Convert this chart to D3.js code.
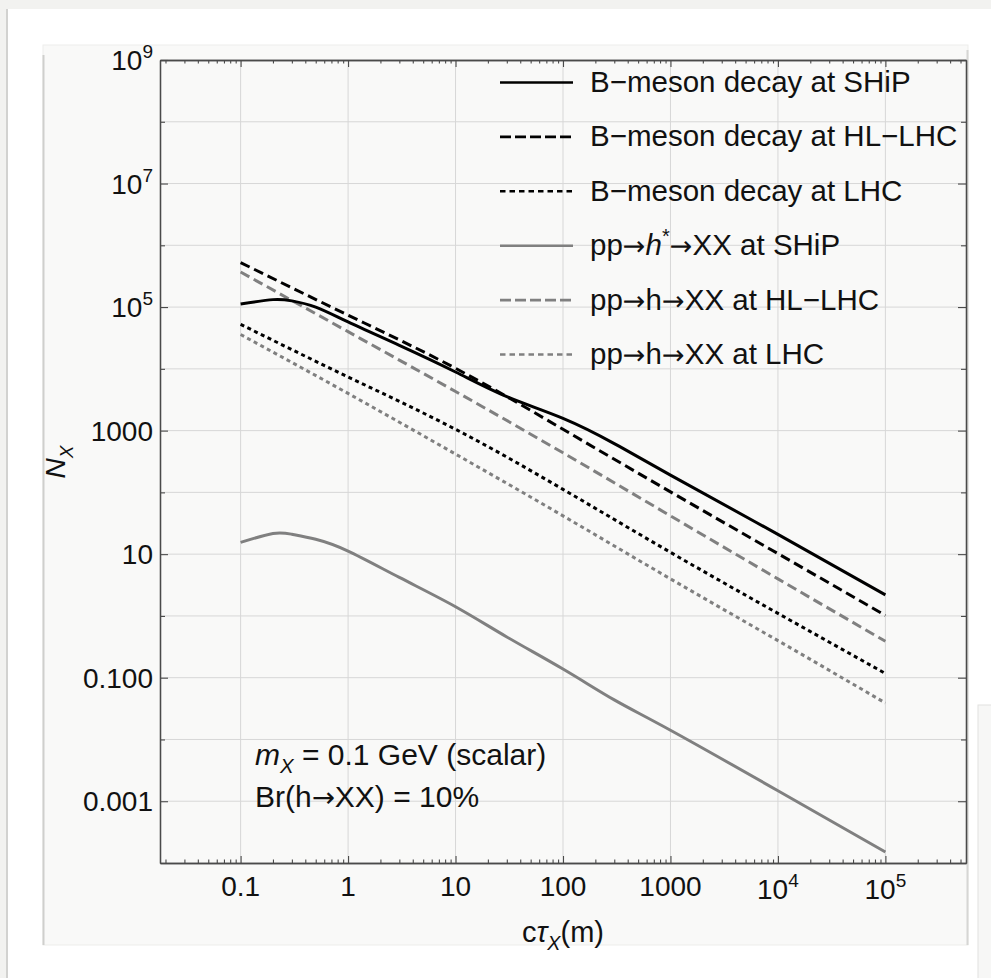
<!DOCTYPE html>
<html>
<head>
<meta charset="utf-8">
<script src="https://cdn.jsdelivr.net/npm/d3@7"></script>
<style>
  html, body { margin: 0; padding: 0; background: #f2f2f0; }
  svg { display: block; font-family: "Liberation Sans", Arial, Helvetica, sans-serif; }
</style>
</head>
<body>
<svg id="chart"></svg>
<script>
// values (N_X vs c*tau in metres)
const ctauDecades = [0.1, 1, 10, 100, 1000, 1e4, 1e5];
const ctauShip = [0.1, 0.2, 0.3, 0.5, 1, 3, 10, 30, 100, 300, 1000, 1e4, 1e5];

const bMesonShip = [1.12e5, 1.32e5, 1.26e5, 1.0e5, 5.75e4, 2.4e4, 8.9e3, 3.55e3, 1.58e3, 617, 190, 20.9, 2.19];
const bMesonHLLHC = [5.25e5, 7.4e4, 1.02e4, 1.05e3, 102, 10.2, 1.02];
const bMesonLHC = [5.25e4, 7.4e3, 1.05e3, 112, 10.7, 1.1, 0.117];
const higgsStarShip = [15.5, 21.6, 21.0, 17.4, 11.2, 4.2, 1.41, 0.457, 0.138, 0.0437, 0.0141, 1.48e-3, 1.51e-4];
const higgsHLLHC = [3.7e5, 4.0e4, 4.3e3, 437, 41.7, 3.98, 0.389];
const higgsLHC = [3.6e4, 4.0e3, 417, 41.7, 3.98, 0.398, 0.0389];

const xTickValues = [0.1, 1, 10, 100, 1000, 1e4, 1e5];
const xTickLabels = ["0.1", "1", "10", "100", "1000", "10^4", "10^5"];
const yTickValues = [1e9, 1e7, 1e5, 1e3, 10, 0.1, 0.001];
const yTickLabels = ["10^9", "10^7", "10^5", "1000", "10", "0.100", "0.001"];

// series, in drawing order (grey first so black sits on top)
const series = [
  {key: "hLHC", x: ctauDecades, y: higgsLHC, color: "#808080", dash: "4,3.5", legendDash: "5.5,4"},
  {key: "hHL", x: ctauDecades, y: higgsHLLHC, color: "#808080", dash: "10,5", legendDash: "11,4"},
  {key: "hShip", x: ctauShip, y: higgsStarShip, color: "#808080", dash: null, legendDash: null},
  {key: "bLHC", x: ctauDecades, y: bMesonLHC, color: "#000", dash: "4,3.5", legendDash: "5.5,4"},
  {key: "bHL", x: ctauDecades, y: bMesonHLLHC, color: "#000", dash: "10,5", legendDash: "11,4"},
  {key: "bShip", x: ctauShip, y: bMesonShip, color: "#000", dash: null, legendDash: null}
];

const legendOrder = ["bShip", "bHL", "bLHC", "hShip", "hHL", "hLHC"];
const legendLabels = {
  bShip: [{t: "B\u2212meson decay at SHiP"}],
  bHL: [{t: "B\u2212meson decay at HL\u2212LHC"}],
  bLHC: [{t: "B\u2212meson decay at LHC"}],
  hShip: [{t: "pp\u2192"}, {t: "h", it: true}, {t: "*", sup: true}, {t: "\u2192XX at SHiP"}],
  hHL: [{t: "pp\u2192h\u2192XX at HL\u2212LHC"}],
  hLHC: [{t: "pp\u2192h\u2192XX at LHC"}]
};

const width = 991;
const height = 978;
const plot = {left: 160, right: 966, top: 60, bottom: 863};
const axisColor = "#4a4a4a";
const gridColor = "#d7d7d7";

const svg = d3.select("#chart")
  .attr("width", width)
  .attr("height", height);

// page / panel background (screenshot framing)
svg.append("rect").attr("width", width).attr("height", height).attr("fill", "#f2f2f0");
svg.append("rect").attr("x", 6).attr("y", 9).attr("width", 3).attr("height", height).attr("fill", "#d2d2d0");
svg.append("rect").attr("x", 8).attr("y", 9).attr("width", width).attr("height", height).attr("fill", "#fff");
svg.append("rect").attr("x", 43).attr("y", 45).attr("width", 925).attr("height", 900)
  .attr("fill", "#f9f9f8").attr("stroke", "#ededeb").attr("stroke-width", 1);
svg.append("line").attr("x1", 43.5).attr("x2", 43.5).attr("y1", 55).attr("y2", 945)
  .attr("stroke", "#cfcfcd").attr("stroke-width", 2);
svg.append("line").attr("x1", 967.5).attr("x2", 967.5).attr("y1", 50).attr("y2", 945)
  .attr("stroke", "#d6d6d4").attr("stroke-width", 2);
svg.append("rect").attr("x", 978).attr("y", 705).attr("width", 20).attr("height", 280)
  .attr("fill", "#f7f7f6").attr("stroke", "#e2e2e0");

const x = d3.scaleLog()
  .domain([Math.pow(10, -1.75), Math.pow(10, 5.75)])
  .range([plot.left, plot.right]);

const y = d3.scaleLog()
  .domain([1e-4, 1e9])
  .range([plot.bottom, plot.top]);

// decades inside the domain
const xDecades = d3.range(-1, 6).map(e => Math.pow(10, e));
const yDecades = d3.range(-4, 10).map(e => Math.pow(10, e));
const xMinor = [];
d3.range(-2, 6).forEach(e => {
  for (let m = 2; m <= 9; m++) {
    const v = m * Math.pow(10, e);
    if (v > x.domain()[0] && v < x.domain()[1]) xMinor.push(v);
  }
});

// grid
svg.append("g")
  .selectAll("line")
  .data(xDecades)
  .join("line")
  .attr("x1", d => x(d)).attr("x2", d => x(d))
  .attr("y1", plot.top).attr("y2", plot.bottom)
  .attr("stroke", gridColor).attr("stroke-width", 1);

svg.append("g")
  .selectAll("line")
  .data(yDecades.filter(d => d > 1e-4 && d < 1e9))
  .join("line")
  .attr("x1", plot.left).attr("x2", plot.right)
  .attr("y1", d => y(d)).attr("y2", d => y(d))
  .attr("stroke", gridColor).attr("stroke-width", 1);

// axes (ticks pointing inward, labels drawn separately)
function styleAxis(g) {
  g.select(".domain").attr("stroke", axisColor).attr("stroke-width", 1.3);
  g.selectAll(".tick line").attr("stroke", axisColor).attr("stroke-width", 1.1);
  g.selectAll(".tick text").remove();
}

const labelled = new Set(yTickValues);
const yMinorDecades = yDecades.filter(d => !labelled.has(d) && d > 1e-4 && d < 1e9);

svg.append("g").attr("transform", `translate(0,${plot.bottom})`)
  .call(d3.axisBottom(x).tickValues(xMinor).tickSizeInner(-3.5).tickSizeOuter(0)).call(styleAxis);
svg.append("g").attr("transform", `translate(0,${plot.bottom})`)
  .call(d3.axisBottom(x).tickValues(xDecades).tickSizeInner(-7).tickSizeOuter(0)).call(styleAxis);
svg.append("g").attr("transform", `translate(0,${plot.top})`)
  .call(d3.axisTop(x).tickValues(xMinor).tickSizeInner(-3.5).tickSizeOuter(0)).call(styleAxis);
svg.append("g").attr("transform", `translate(0,${plot.top})`)
  .call(d3.axisTop(x).tickValues(xDecades).tickSizeInner(-7).tickSizeOuter(0)).call(styleAxis);

svg.append("g").attr("transform", `translate(${plot.left},0)`)
  .call(d3.axisLeft(y).tickValues(yMinorDecades).tickSizeInner(-5).tickSizeOuter(0)).call(styleAxis);
svg.append("g").attr("transform", `translate(${plot.left},0)`)
  .call(d3.axisLeft(y).tickValues(yTickValues).tickSizeInner(-8).tickSizeOuter(0)).call(styleAxis);
svg.append("g").attr("transform", `translate(${plot.right},0)`)
  .call(d3.axisRight(y).tickValues(yMinorDecades).tickSizeInner(-5).tickSizeOuter(0)).call(styleAxis);
svg.append("g").attr("transform", `translate(${plot.right},0)`)
  .call(d3.axisRight(y).tickValues(yTickValues).tickSizeInner(-8).tickSizeOuter(0)).call(styleAxis);

// text with italic / sub / superscript pieces; arrows come from DejaVu
function addRich(textSel, parts, size) {
  let shift = 0;
  for (const p of parts) {
    const target = p.sup ? -size * 0.42 : p.sub ? size * 0.28 : 0;
    p.t.split(/(\u2192)/).filter(s => s).forEach(piece => {
      const ts = textSel.append("tspan").text(piece).attr("dy", target - shift);
      shift = target;
      if (p.sup || p.sub) ts.attr("font-size", size * 0.68);
      if (p.it) ts.attr("font-style", "italic");
      if (piece === "\u2192") ts.attr("font-family", "DejaVu Sans").attr("font-size", size * 0.92);
    });
  }
}

function tickParts(label) {
  const [base, exp] = label.split("^");
  return exp ? [{t: base}, {t: exp, sup: true}] : [{t: base}];
}

const tickSize = 28;

xTickValues.forEach((v, i) => {
  const label = xTickLabels[i];
  const t = svg.append("text")
    .attr("x", x(v))
    .attr("y", 896 + (label.includes("^") ? 3 : 0))
    .attr("text-anchor", "middle")
    .attr("font-size", tickSize)
    .attr("fill", "#111");
  addRich(t, tickParts(label), tickSize);
});

yTickValues.forEach((v, i) => {
  const t = svg.append("text")
    .attr("x", 153)
    .attr("y", y(v) + 10)
    .attr("text-anchor", "end")
    .attr("font-size", tickSize)
    .attr("fill", "#111");
  addRich(t, tickParts(yTickLabels[i]), tickSize);
});

// axis titles
const yTitle = svg.append("text")
  .attr("transform", "translate(65,462) rotate(-90)")
  .attr("text-anchor", "middle")
  .attr("font-size", 28)
  .attr("fill", "#111");
addRich(yTitle, [{t: "N", it: true}, {t: "X", sub: true, it: true}], 28);

const xTitle = svg.append("text")
  .attr("x", 563)
  .attr("y", 942)
  .attr("text-anchor", "middle")
  .attr("font-size", 29)
  .attr("fill", "#111");
addRich(xTitle, [{t: "c"}, {t: "\u03c4", it: true}, {t: "X", sub: true, it: true}, {t: "(m)"}], 29);

// curves (natural spline in screen space keeps the SHiP humps smooth)
const line = d3.line()
  .x(d => x(d[0]))
  .y(d => y(d[1]))
  .curve(d3.curveNatural);

svg.append("g")
  .selectAll("path")
  .data(series)
  .join("path")
  .attr("d", s => line(s.x.map((c, i) => [c, s.y[i]])))
  .attr("fill", "none")
  .attr("stroke", s => s.color)
  .attr("stroke-width", 3)
  .attr("stroke-dasharray", s => s.dash);

// legend
const legendSize = 29.5;
const legend = svg.append("g");
legendOrder.forEach((key, i) => {
  const s = series.find(d => d.key === key);
  const base = 92 + i * 54.4;
  legend.append("line")
    .attr("x1", 500).attr("x2", 573)
    .attr("y1", base - 9.5).attr("y2", base - 9.5)
    .attr("stroke", s.color)
    .attr("stroke-width", 2.6)
    .attr("stroke-dasharray", s.legendDash);
  const t = legend.append("text")
    .attr("x", 590)
    .attr("y", base)
    .attr("font-size", legendSize)
    .attr("fill", "#111");
  addRich(t, legendLabels[key], legendSize);
});

// annotation
const noteSize = 30;
const note1 = svg.append("text").attr("x", 255).attr("y", 765).attr("font-size", noteSize).attr("fill", "#111");
addRich(note1, [{t: "m", it: true}, {t: "X", sub: true, it: true}, {t: " = 0.1 GeV (scalar)"}], noteSize);
const note2 = svg.append("text").attr("x", 255).attr("y", 807).attr("font-size", noteSize).attr("fill", "#111");
addRich(note2, [{t: "Br(h\u2192XX) = 10%"}], noteSize);
</script>
</body>
</html>
